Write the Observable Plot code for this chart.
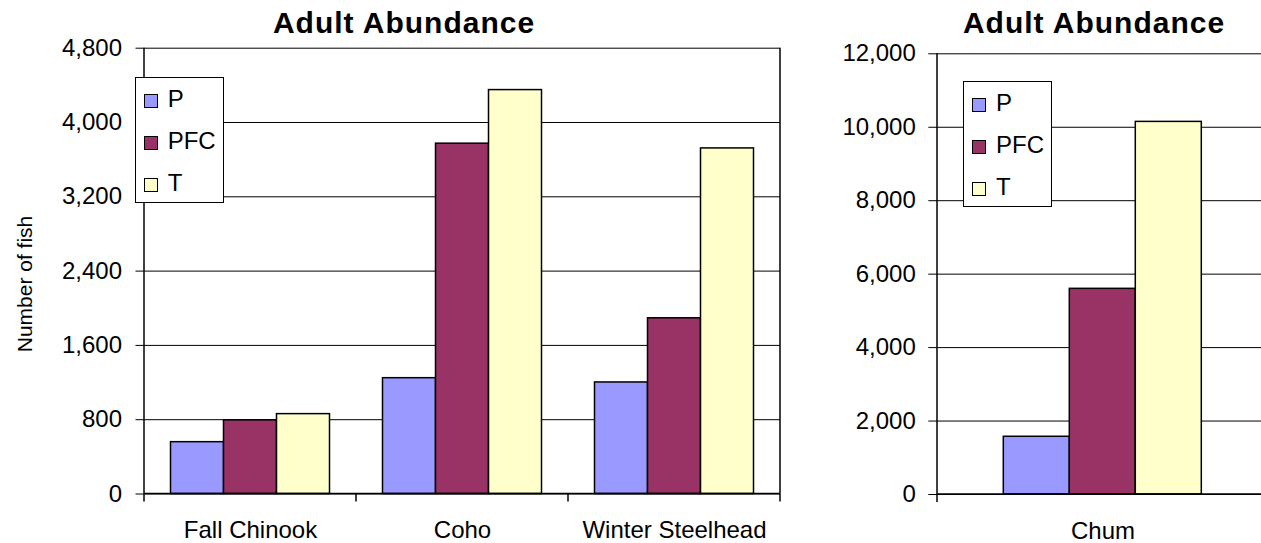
<!DOCTYPE html>
<html>
<head>
<meta charset="utf-8">
<script src="https://cdn.jsdelivr.net/npm/d3@7"></script>
<script src="https://cdn.jsdelivr.net/npm/@observablehq/plot@0.6"></script>
<style>
  html, body { margin: 0; padding: 0; background: #fff; overflow: hidden; }
  #chart { position: relative; width: 1261px; height: 543px; overflow: hidden; background: #fff;
           font-family: "Liberation Sans", Arial, sans-serif; color: #000; }
  .panel { position: absolute; top: 0; }
  .panel svg { max-width: none !important; }
  .title { position: absolute; top: 7.6px; font-size: 30px; font-weight: bold; letter-spacing: 1px;
           line-height: 30px; white-space: nowrap; transform: translateX(-50%); }
  .ylabel { position: absolute; font-size: 21px; white-space: nowrap; line-height: 21px;
            transform: translate(-50%, -50%) rotate(-90deg); }
  .legend { position: absolute; width: 89px; height: 126px; border: 1px solid #000; background: #fff; box-sizing: border-box; }
  .item { position: absolute; left: 0; height: 24px; line-height: 24px; font-size: 24px; }
  .sw { position: absolute; left: 8px; top: 6.3px; width: 14px; height: 14px; border: 1.5px solid #000; box-sizing: border-box; }
  .lt { position: absolute; left: 32px; top: 0; white-space: nowrap; }
</style>
</head>
<body>
<div id="chart"></div>
<script>
// ---- data ----
const series = ["P", "PFC", "T"];
const seriesColors = ["#9999FF", "#993366", "#FFFFCC"];

const categoriesLeft = ["Fall Chinook", "Coho", "Winter Steelhead"];
const valuesP = [558, 1247, 1201];
const valuesPFC = [793, 3772, 1892];
const valuesT = [860, 4349, 3721];
const yTicksLeft = [0, 800, 1600, 2400, 3200, 4000, 4800];

const categoriesRight = ["Chum"];
const chumP = [1572];
const chumPFC = [5600];
const chumT = [10146];
const yTicksRight = [0, 2000, 4000, 6000, 8000, 10000, 12000];

const titleText = "Adult Abundance";
const yLabelText = "Number of fish";

function rowsFrom(cats, arrs) {
  const rows = [];
  cats.forEach((c, i) => series.forEach((s, j) => rows.push({category: c, series: s, value: arrs[j][i]})));
  return rows;
}
const rowsLeft = rowsFrom(categoriesLeft, [valuesP, valuesPFC, valuesT]);
const rowsRight = rowsFrom(categoriesRight, [chumP, chumPFC, chumT]);

const chart = document.getElementById("chart");
const font = '"Liberation Sans", Arial, sans-serif';

function makePanel(opts) {
  const svg = Plot.plot({
    width: opts.width, height: 543,
    marginLeft: opts.ml, marginRight: opts.mr, marginTop: opts.mt, marginBottom: 543 - opts.bottom,
    style: {fontFamily: font, fontSize: "24px", color: "#000", background: "transparent", overflow: "visible", maxWidth: "none"},
    fx: {domain: opts.cats, padding: 0, label: null, axis: "bottom", tickSize: 0, tickPadding: 27},
    x: {domain: series, paddingInner: 0, paddingOuter: opts.po, axis: null},
    y: {domain: [0, opts.ticks[opts.ticks.length - 1]], ticks: opts.ticks, tickFormat: d3.format(","),
        tickSize: opts.ts, tickPadding: opts.tp, label: null},
    color: {domain: series, range: seriesColors},
    marks: [
      Plot.ruleY(opts.ticks, {stroke: "#000", strokeWidth: 1}),
      Plot.barY(opts.rows, {fx: "category", x: "series", y: "value", fill: "series", stroke: "#000", strokeWidth: 1.5})
    ]
  });
  svg.style.maxWidth = "none";
  // frame pieces and category boundary ticks, from the plot's own scales
  const fx = svg.scale("fx"), y = svg.scale("y");
  const yb = y.apply(0), yt = y.apply(opts.ticks[opts.ticks.length - 1]);
  const left = fx.apply(opts.cats[0]);
  const bounds = opts.cats.map(c => fx.apply(c));
  bounds.push(fx.apply(opts.cats[opts.cats.length - 1]) + fx.bandwidth);
  const g = d3.select(svg).append("g").attr("stroke", "#000").attr("stroke-width", 1.5);
  g.append("line").attr("x1", left).attr("x2", left).attr("y1", yt).attr("y2", yb);
  if (opts.rightBorder) {
    const r = bounds[bounds.length - 1];
    g.append("line").attr("x1", r).attr("x2", r).attr("y1", yt).attr("y2", yb);
  }
  bounds.forEach(b => g.append("line").attr("x1", b).attr("x2", b).attr("y1", yb).attr("y2", yb + 8));
  g.append("line").attr("x1", bounds[0]).attr("x2", bounds[bounds.length - 1]).attr("y1", yb).attr("y2", yb);
  const wrap = document.createElement("div");
  wrap.className = "panel";
  wrap.style.left = opts.left + "px";
  wrap.style.width = opts.width + "px";
  wrap.appendChild(svg);
  chart.appendChild(wrap);
}

makePanel({left: 0, width: 800, ml: 142.5, mr: 19.5, mt: 47.7, bottom: 493.5, po: 0.5,
           cats: categoriesLeft, rows: rowsLeft, ticks: yTicksLeft, ts: 8.5, tp: 14, rightBorder: true});
makePanel({left: 820, width: 448, ml: 116.7, mr: 0, mt: 53.3, bottom: 494, po: 0.985,
           cats: categoriesRight, rows: rowsRight, ticks: yTicksRight, ts: 8.7, tp: 13, rightBorder: false});

function addTitle(cx) {
  const t = document.createElement("div");
  t.className = "title"; t.style.left = cx + "px"; t.textContent = titleText;
  chart.appendChild(t);
}
addTitle(404);
addTitle(1094);

const yl = document.createElement("div");
yl.className = "ylabel"; yl.style.left = "23.5px"; yl.style.top = "284px"; yl.textContent = yLabelText;
chart.appendChild(yl);

function addLegend(x, yTop) {
  const box = document.createElement("div");
  box.className = "legend"; box.style.left = x + "px"; box.style.top = yTop + "px";
  series.forEach((s, i) => {
    const it = document.createElement("div");
    it.className = "item"; it.style.top = (9.4 + 42 * i) + "px";
    const sw = document.createElement("div"); sw.className = "sw"; sw.style.background = seriesColors[i];
    const lt = document.createElement("div"); lt.className = "lt"; lt.textContent = s;
    it.appendChild(sw); it.appendChild(lt); box.appendChild(it);
  });
  chart.appendChild(box);
}
addLegend(134.7, 77);
addLegend(963, 81);
</script>
</body>
</html>
